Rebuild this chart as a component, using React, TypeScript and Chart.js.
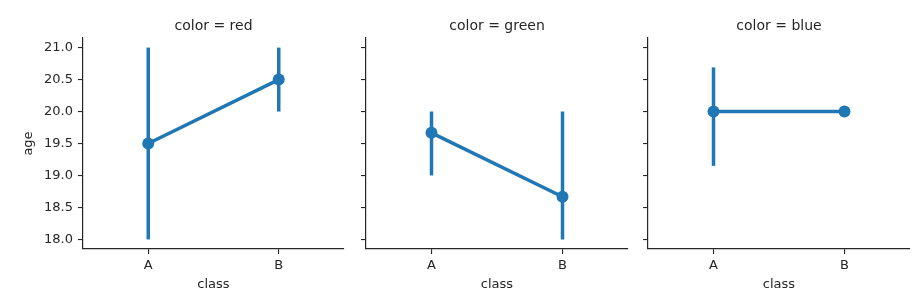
import React, { useEffect, useRef } from "react";
import { Chart, registerables } from "chart.js";

Chart.register(...registerables);

// ---- data ----
const classes = ["A", "B"];
const panelTitles = ["color = red", "color = green", "color = blue"];
const redMeans = [19.5, 20.5];
const redLow = [18.0, 20.0];
const redHigh = [21.0, 21.0];
const greenMeans = [19.667, 18.667];
const greenLow = [19.0, 18.0];
const greenHigh = [20.0, 20.0];
const blueMeans = [20.0, 20.0];
const blueLow = [19.15, 20.0];
const blueHigh = [20.69, 20.0];
const yTicks = [18.0, 18.5, 19.0, 19.5, 20.0, 20.5, 21.0];
const yMin = 17.85;
const yMax = 21.15;
const xLabel = "class";
const yLabel = "age";

const BLUE = "#1f77b4";
const INK = "#262626";
const FONT = "'DejaVu Sans', sans-serif";

type PanelSpec = {
  title: string;
  means: number[];
  low: number[];
  high: number[];
  left: number;
  width: number;
  axisWidth: number;
  padRight: number;
  showY: boolean;
};

const panels: PanelSpec[] = [
  { title: panelTitles[0], means: redMeans, low: redLow, high: redHigh, left: 0, width: 350, axisWidth: 83, padRight: 6, showY: true },
  { title: panelTitles[1], means: greenMeans, low: greenLow, high: greenHigh, left: 350, width: 285, axisWidth: 16, padRight: 7, showY: false },
  { title: panelTitles[2], means: blueMeans, low: blueLow, high: blueHigh, left: 635, width: 287, axisWidth: 13, padRight: 12, showY: false },
];

const H = 295;

function Panel({ spec }: { spec: PanelSpec }) {
  const ref = useRef<HTMLCanvasElement | null>(null);
  useEffect(() => {
    if (!ref.current) return;
    const datasets: any[] = [
      {
        data: spec.means.map((m, i) => ({ x: i, y: m })),
        borderColor: BLUE,
        backgroundColor: BLUE,
        borderWidth: 3.5,
        pointRadius: 6,
        pointBorderWidth: 0,
        pointBackgroundColor: BLUE,
        showLine: true,
        order: 0,
      },
    ];
    spec.low.forEach((lo, i) => {
      const hi = spec.high[i];
      if (hi === lo) return;
      datasets.push({
        data: [
          { x: i, y: lo },
          { x: i, y: hi },
        ],
        borderColor: BLUE,
        borderWidth: 3.5,
        pointRadius: 0,
        showLine: true,
        order: 1,
      });
    });

    const chart = new Chart(ref.current, {
      type: "line",
      data: { datasets },
      options: {
        animation: false,
        responsive: false,
        devicePixelRatio: 1,
        events: [],
        layout: { padding: { left: 0, right: spec.padRight, top: 0, bottom: 0 } },
        plugins: {
          legend: { display: false },
          tooltip: { enabled: false },
          title: {
            display: true,
            text: spec.title,
            fullSize: false,
            color: INK,
            font: { family: FONT, size: 14, weight: "normal" },
            padding: { top: 17.6, bottom: 3.6 },
          },
        },
        scales: {
          x: {
            type: "linear",
            min: -0.5,
            max: 1.5,
            afterBuildTicks: (s: any) => {
              s.ticks = classes.map((_, i) => ({ value: i }));
            },
            afterFit: (s: any) => {
              s.height = 46;
            },
            ticks: {
              callback: (v: any) => classes[Number(v)] ?? "",
              color: INK,
              font: { family: FONT, size: 13 },
              padding: 4,
              maxRotation: 0,
              autoSkip: false,
            },
            grid: { drawOnChartArea: false, drawTicks: true, tickLength: 5, color: INK, lineWidth: 1.1 },
            border: { display: true, color: INK, width: 1.2 },
            title: {
              display: true,
              text: xLabel,
              color: INK,
              font: { family: FONT, size: 13 },
              padding: { top: 0, bottom: 3 },
            },
          },
          y: {
            type: "linear",
            min: yMin,
            max: yMax,
            afterBuildTicks: (s: any) => {
              s.ticks = yTicks.map((v) => ({ value: v }));
            },
            afterFit: (s: any) => {
              s.width = spec.axisWidth;
            },
            ticks: {
              display: spec.showY,
              callback: (v: any) => Number(v).toFixed(1),
              color: INK,
              font: { family: FONT, size: 13 },
              padding: 5,
              autoSkip: false,
            },
            grid: { drawOnChartArea: false, drawTicks: true, tickLength: 5, color: INK, lineWidth: 1.1 },
            border: { display: true, color: INK, width: 1.2 },
            title: {
              display: spec.showY,
              text: yLabel,
              color: INK,
              font: { family: FONT, size: 13 },
              padding: { top: 21, bottom: 0 },
            },
          },
        },
      } as any,
    });
    return () => chart.destroy();
  }, [spec]);

  return (
    <canvas
      ref={ref}
      width={spec.width}
      height={H}
      style={{ position: "absolute", left: spec.left, top: 0, width: spec.width, height: H }}
    />
  );
}

export default function App() {
  return (
    <div style={{ position: "absolute", left: 0, top: 0, width: 922, height: H, background: "#ffffff" }}>
      {panels.map((p, i) => (
        <Panel key={i} spec={p} />
      ))}
    </div>
  );
}
